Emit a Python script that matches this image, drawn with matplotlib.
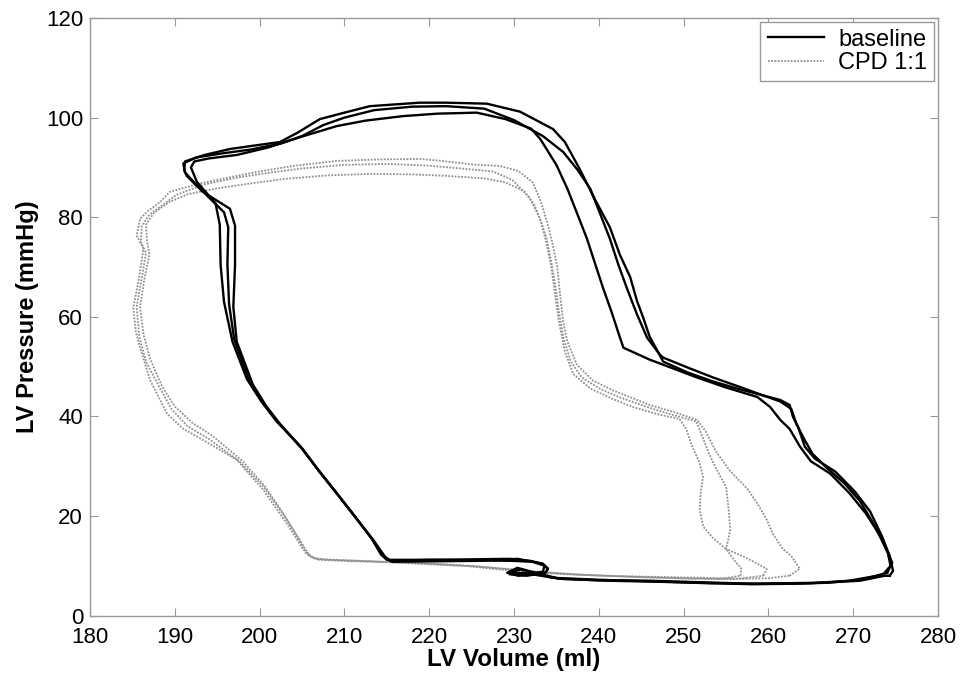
import numpy as np
import matplotlib
matplotlib.use("Agg")
import matplotlib.pyplot as plt

plt.rcParams["font.family"] = ["Liberation Sans", "DejaVu Sans"]

# baseline loops (LV volume in ml, LV pressure in mmHg)
base1_vol = [274.3, 274.7, 274.3, 273.4, 272.0, 270.2, 267.9, 265.5, 264.3, 263.5, 262.9,
             262.5, 261.4, 259.4, 256.5, 253.5, 250.5, 247.6, 246.9, 246.0, 245.2, 244.5,
             243.7, 242.5, 241.3, 239.5, 237.8, 236.0, 234.6, 230.7, 226.8, 222.0, 218.9,
             213.0, 210.0, 207.1, 204.5, 202.4, 199.0, 196.5, 193.5, 191.2, 191.1, 191.4,
             193.3, 196.5, 197.1, 197.1, 196.9, 197.3, 199.2, 200.8, 202.4, 205.1, 207.0,
             209.1, 211.5, 213.3, 214.6, 215.4, 220.0, 225.0, 229.5, 231.9, 233.4, 234.0,
             233.7, 231.5, 229.5, 231.0, 235.4, 240.0, 246.0, 252.0, 257.8, 262.0, 266.1,
             270.8, 273.7, 274.3]
base1_p = [8.0, 9.0, 12.0, 15.9, 20.9, 24.9, 28.9, 31.5, 33.9, 37.9, 39.9,
           42.3, 43.3, 44.2, 45.5, 47.0, 48.8, 51.0, 53.2, 56.0, 60.0, 63.2,
           68.0, 72.4, 78.0, 83.7, 89.5, 95.1, 97.7, 101.2, 102.8, 103.0, 103.0,
           102.3, 101.0, 99.7, 97.0, 95.1, 94.3, 93.7, 92.5, 91.2, 89.5, 88.3,
           85.1, 81.7, 78.3, 70.4, 62.0, 55.0, 46.4, 42.0, 38.5, 33.3, 29.0,
           24.5, 19.3, 15.3, 12.0, 11.0, 11.2, 11.3, 11.4, 11.0, 10.4, 9.4,
           8.6, 8.0, 8.3, 8.6, 7.4, 7.1, 7.0, 6.7, 6.4, 6.5, 6.6,
           7.0, 8.0, 8.0]

base2_vol = [274.0, 274.6, 274.0, 273.0, 271.5, 269.6, 267.3, 265.0, 263.7, 262.5, 261.4,
             260.2, 258.7, 255.0, 251.6, 248.5, 246.0, 242.9, 242.5, 241.5, 240.5, 239.5,
             238.6, 237.5, 236.3, 235.0, 233.1, 232.0, 229.0, 225.6, 221.0, 216.9, 212.5,
             209.1, 205.0, 201.0, 197.3, 194.0, 192.3, 191.9, 192.6, 194.8, 195.3, 195.4,
             195.8, 196.8, 198.5, 200.2, 202.0, 204.8, 206.8, 208.9, 211.3, 213.2, 214.3,
             215.0, 220.0, 225.0, 229.8, 232.2, 233.6, 233.4, 231.0, 229.6, 230.8, 234.5,
             240.0, 246.0, 252.0, 258.0, 263.0, 267.0, 271.0, 274.0]
base2_p = [8.6, 10.6, 13.0, 16.5, 20.5, 24.5, 28.5, 31.0, 34.0, 37.5, 39.3,
           41.9, 43.9, 45.8, 47.8, 49.8, 51.4, 53.8, 55.8, 61.0, 65.8, 71.0,
           75.7, 80.5, 85.7, 90.5, 95.7, 97.8, 99.7, 101.0, 100.8, 100.3, 99.4,
           98.3, 96.2, 94.0, 92.5, 91.8, 91.2, 90.0, 87.1, 82.8, 78.5, 70.4,
           63.0, 55.0, 47.5, 43.0, 39.0, 34.0, 29.5, 25.0, 19.8, 15.5, 12.3,
           11.2, 11.2, 11.1, 11.0, 10.8, 10.0, 8.8, 8.3, 8.6, 9.3, 7.6,
           7.2, 6.9, 6.6, 6.3, 6.4, 6.6, 7.2, 8.6]

base3_vol = [273.5, 274.4, 274.1, 273.3, 272.2, 270.8, 269.0, 266.8, 265.2, 264.2, 263.3,
             262.7, 261.4, 259.4, 256.5, 253.5, 250.5, 247.6, 247.2, 245.7, 244.5, 243.3,
             242.3, 241.3, 240.2, 239.0, 237.5, 235.8, 233.4, 230.0, 226.5, 222.0, 218.0,
             213.5, 210.0, 207.5, 205.0, 202.5, 199.0, 195.5, 192.5, 191.0, 191.2, 192.0,
             194.0, 195.8, 196.3, 196.2, 196.4, 197.0, 198.8, 200.5, 202.2, 205.0, 206.9,
             209.0, 211.4, 213.4, 214.8, 215.6, 220.5, 226.0, 230.4, 233.4, 234.0, 233.7,
             230.5, 229.2, 230.4, 232.5, 235.4, 241.0, 247.0, 253.0, 259.0, 265.0, 269.5,
             273.5]
base3_p = [8.2, 10.0, 12.5, 15.5, 19.0, 23.0, 26.5, 29.8, 32.5, 35.5, 38.5,
           41.5, 43.0, 44.2, 46.0, 47.8, 49.8, 51.8, 52.4, 55.8, 60.5, 65.8,
           70.5, 75.7, 80.5, 85.7, 89.5, 93.1, 96.3, 99.5, 101.8, 102.3, 102.2,
           101.5, 100.0, 98.5, 96.3, 94.8, 93.6, 92.8, 92.0, 90.8, 89.0, 87.5,
           84.0, 81.0, 78.0, 70.5, 62.5, 55.5, 47.0, 42.5, 38.8, 33.6, 29.3,
           24.8, 19.5, 15.2, 11.8, 10.8, 10.9, 11.0, 11.4, 10.4, 9.4, 8.6,
           8.0, 8.6, 9.6, 8.6, 7.4, 7.0, 6.8, 6.5, 6.4, 6.5, 7.0,
           8.2]

# CPD 1:1 loops
cpd1_vol = [262.5, 263.7, 262.7, 261.7, 260.5, 259.8, 258.7, 257.5, 255.5, 253.8, 252.6,
            251.6, 249.0, 246.0, 243.5, 241.7, 239.3, 237.4, 236.3, 235.8, 235.4, 235.1,
            234.5, 233.9, 233.2, 232.2, 230.5, 228.3, 225.0, 221.0, 218.9, 214.0, 209.1,
            204.0, 200.0, 197.3, 193.0, 189.4, 188.3, 186.8, 185.9, 185.5, 186.3, 185.8,
            185.1, 185.4, 185.9, 187.1, 189.1, 191.0, 193.3, 197.3, 200.4, 203.2, 205.1,
            206.3, 208.0, 212.0, 216.6, 220.0, 224.8, 228.0, 232.0, 236.0, 241.0, 246.0,
            252.0, 257.0, 260.0, 262.5]
cpd1_p = [8.0, 9.4, 12.0, 13.4, 16.5, 19.3, 22.5, 25.5, 29.0, 33.0, 37.0,
          39.3, 40.8, 42.3, 44.0, 45.2, 47.2, 50.4, 55.0, 59.0, 65.0, 70.0,
          75.0, 79.0, 83.0, 87.0, 89.3, 90.3, 90.6, 91.4, 91.7, 91.6, 91.3,
          90.3, 89.2, 88.3, 86.8, 85.1, 83.1, 81.2, 79.7, 76.3, 73.7, 68.0,
          61.8, 57.0, 53.8, 47.2, 40.5, 37.5, 35.3, 31.3, 25.3, 18.5, 13.4,
          11.6, 11.2, 11.0, 10.6, 10.3, 9.9, 9.3, 8.7, 8.3, 8.0, 7.8,
          7.6, 7.4, 7.5, 8.0]

cpd2_vol = [256.7, 256.8, 256.2, 255.0, 253.5, 252.3, 251.9, 252.0, 252.3, 251.8, 251.0,
            250.3, 249.5, 247.0, 244.0, 241.5, 239.0, 237.0, 236.0, 235.3, 234.8, 234.4,
            233.8, 233.2, 232.4, 231.2, 229.0, 226.5, 222.0, 218.0, 213.0, 208.0, 203.0,
            199.0, 195.0, 191.5, 189.3, 187.5, 186.6, 186.7, 187.0, 186.4, 185.9, 186.3,
            187.1, 188.5, 190.0, 192.0, 194.5, 198.0, 200.6, 202.8, 204.4, 205.5, 206.5,
            210.0, 215.0, 220.0, 225.0, 229.0, 233.0, 238.0, 244.0, 250.0, 254.5, 256.7]
cpd2_p = [8.0, 9.5, 10.6, 13.4, 15.5, 17.9, 21.3, 24.5, 27.9, 31.0, 34.0,
          37.5, 39.5, 40.4, 41.9, 43.6, 45.6, 48.5, 53.0, 59.0, 65.0, 70.0,
          75.0, 79.0, 82.5, 85.2, 87.0, 87.8, 88.3, 88.6, 88.7, 88.4, 87.7,
          86.8, 85.8, 84.6, 83.0, 80.8, 78.5, 75.5, 72.5, 67.5, 62.0, 56.5,
          51.5, 46.0, 42.0, 38.8, 36.0, 31.0, 26.0, 20.5, 16.0, 12.4, 11.4,
          11.1, 10.8, 10.5, 10.0, 9.4, 8.8, 8.2, 7.8, 7.5, 7.4, 8.0]

cpd3_vol = [259.4, 259.8, 257.5, 255.0, 255.3, 255.5, 255.3, 255.0, 254.0, 253.0, 252.2,
            251.5, 248.5, 245.5, 242.5, 240.2, 238.0, 236.7, 235.8, 235.3, 234.9, 234.4,
            233.8, 233.0, 231.8, 229.8, 227.5, 223.0, 219.5, 215.0, 210.0, 205.0, 201.0,
            197.5, 193.5, 190.2, 188.6, 187.0, 186.1, 186.0, 186.6, 186.1, 185.5, 185.8,
            186.6, 188.2, 189.6, 191.5, 194.0, 197.6, 200.5, 203.0, 204.8, 205.9, 207.0,
            211.0, 216.0, 221.0, 226.0, 230.0, 234.0, 239.0, 245.0, 251.0, 256.0, 259.4]
cpd3_p = [8.0, 9.4, 11.5, 13.4, 15.5, 17.3, 21.5, 25.9, 29.0, 32.5, 36.0,
          39.0, 40.4, 42.0, 43.8, 45.5, 47.8, 51.0, 56.0, 61.0, 66.0, 71.0,
          76.0, 80.0, 84.0, 87.5, 89.2, 89.9, 90.4, 90.7, 90.5, 89.8, 88.9,
          88.0, 86.6, 84.5, 82.5, 80.5, 78.2, 75.0, 72.8, 67.8, 62.0, 56.0,
          51.0, 45.8, 41.5, 38.0, 35.5, 31.0, 25.8, 19.8, 15.0, 12.0, 11.2,
          10.9, 10.7, 10.3, 9.8, 9.2, 8.6, 8.1, 7.7, 7.4, 7.3, 8.0]

baseline_loops = [(base1_vol, base1_p), (base2_vol, base2_p), (base3_vol, base3_p)]
cpd_loops = [(cpd1_vol, cpd1_p), (cpd2_vol, cpd2_p), (cpd3_vol, cpd3_p)]

x_ticks = list(range(180, 281, 10))
y_ticks = list(range(0, 121, 20))

fig = plt.figure(figsize=(9.66, 6.75), dpi=100)
ax = fig.add_axes([0.0932, 0.088, 0.8778, 0.8853])

for i, (v, p) in enumerate(cpd_loops):
    ax.plot(v, p, color="#909090", linestyle=(0, (1, 0.8)), linewidth=1.3,
            label="CPD 1:1" if i == 0 else None, zorder=2)
for i, (v, p) in enumerate(baseline_loops):
    ax.plot(v, p, color="black", linewidth=1.7,
            label="baseline" if i == 0 else None, zorder=3)

ax.set_xlim(180, 280)
ax.set_ylim(0, 120)
ax.set_xticks(x_ticks)
ax.set_yticks(y_ticks)
ax.tick_params(direction="in", top=True, right=True, length=6, color="#999999",
               labelsize=16)
ax.tick_params(axis="x", pad=8)
ax.tick_params(axis="y", pad=5)
for s in ax.spines.values():
    s.set_color("#999999")
    s.set_linewidth(1.0)

ax.set_xlabel("LV Volume (ml)", fontsize=17.5, fontweight="bold", labelpad=0)
ax.set_ylabel("LV Pressure (mmHg)", fontsize=17, fontweight="bold", labelpad=5)

handles, labels = ax.get_legend_handles_labels()
order = [labels.index("baseline"), labels.index("CPD 1:1")]
leg = ax.legend([handles[k] for k in order], [labels[k] for k in order],
                loc="upper right", fontsize=17, fancybox=False, framealpha=1,
                edgecolor="#999999", handlelength=2.4, handletextpad=0.6,
                borderpad=0.3, labelspacing=0.05, borderaxespad=0.15)
leg.get_frame().set_linewidth(1.0)

fig.savefig("out.png", dpi=100)
